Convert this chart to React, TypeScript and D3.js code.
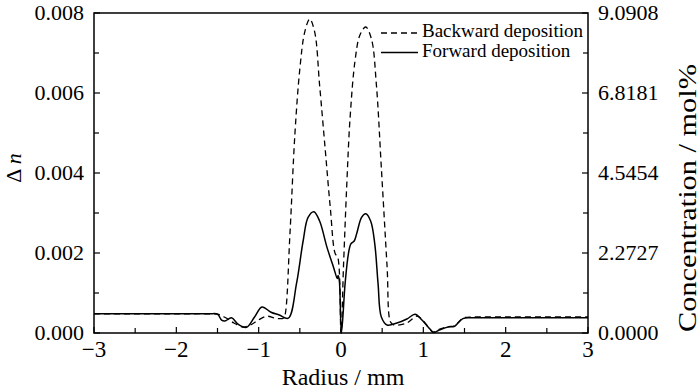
import React, { useEffect, useRef } from 'react';
import * as d3 from 'd3';

// radius (mm) / delta n
const backwardR = [-3, -2.5, -2, -1.6, -1.5, -1.4, -1.3, -1.19, -1.1, -1.0, -0.9, -0.8, -0.7, -0.68, -0.62, -0.56, -0.5, -0.44, -0.38, -0.32, -0.26, -0.19, -0.13, -0.07, -0.04, 0, 0.03, 0.07, 0.11, 0.17, 0.23, 0.3, 0.37, 0.43, 0.49, 0.56, 0.6, 0.64, 0.8, 0.92, 0.98, 1.08, 1.12, 1.2, 1.3, 1.38, 1.48, 1.6, 2, 2.5, 3];
const backwardV = [0.00048, 0.00048, 0.00048, 0.00048, 0.00047, 0.00038, 0.00025, 0.00015, 0.0002, 0.00033, 0.00042, 0.00037, 0.00037, 0.00045, 0.00248, 0.00497, 0.0066, 0.00753, 0.00785, 0.00753, 0.0062, 0.00455, 0.00313, 0.00198, 0.0019, 0, 0.00165, 0.0037, 0.00537, 0.0068, 0.00745, 0.00765, 0.00735, 0.0062, 0.00413, 0.00165, 0.00028, 0.0002, 0.00025, 0.00042, 0.00035, 0.0001, 0.00003, 0.0001, 0.00016, 0.00018, 0.00037, 0.0004, 0.0004, 0.0004, 0.0004];

const forwardR = [-3, -2.5, -2, -1.6, -1.5, -1.45, -1.41, -1.33, -1.25, -1.15, -1.05, -0.96, -0.85, -0.75, -0.64, -0.54, -0.46, -0.4, -0.33, -0.26, -0.17, -0.09, -0.045, -0.035, -0.02, 0.005, 0.05, 0.09, 0.12, 0.16, 0.19, 0.25, 0.3, 0.36, 0.41, 0.45, 0.49, 0.56, 0.68, 0.8, 0.9, 0.98, 1.08, 1.12, 1.2, 1.3, 1.38, 1.48, 1.6, 2, 2.5, 3];
const forwardV = [0.00048, 0.00048, 0.00048, 0.00048, 0.00047, 0.00032, 0.0003, 0.00038, 0.00022, 0.00014, 0.0004, 0.00065, 0.00052, 0.00045, 0.00037, 0.00124, 0.0023, 0.00289, 0.00303, 0.0028, 0.00214, 0.00164, 0.00136, 0.00144, 0.0013, 0, 0.00124, 0.00198, 0.00223, 0.0023, 0.00248, 0.00289, 0.00298, 0.0028, 0.00223, 0.00124, 0.0004, 0.0002, 0.00025, 0.00035, 0.00047, 0.00033, 0.0001, 0.00001, 0.00008, 0.00015, 0.00017, 0.00036, 0.00038, 0.00038, 0.00038, 0.00038];

const xTicks = [-3, -2, -1, 0, 1, 2, 3];
const yTicks = [0, 0.002, 0.004, 0.006, 0.008];
const rightTicks = [0, 2.2727, 4.5454, 6.8181, 9.0908];

const W = 700;
const H = 391;
const FONT = '"Liberation Serif", "Times New Roman", serif';

export default function App() {
  const svgRef = useRef<SVGSVGElement>(null);

  useEffect(() => {
    if (!svgRef.current) return;
    const root = d3.select(svgRef.current);
    root.selectAll('*').remove();

    const margin = { top: 13, right: 112, bottom: 58, left: 94 };
    const width = W - margin.left - margin.right;
    const height = H - margin.top - margin.bottom;

    const svg = root.append('g').attr('transform', `translate(${margin.left},${margin.top})`);

    const x = d3.scaleLinear().domain([-3, 3]).range([0, width]);
    const y = d3.scaleLinear().domain([0, 0.008]).range([height, 0]);
    const y2 = d3.scaleLinear().domain([0, 9.0908]).range([height, 0]);

    const tickLen = 6;
    const minorLen = 5;

    // bottom axis: labels outside, ticks inward
    const bottom = svg.append('g').attr('transform', `translate(0,${height})`);
    bottom.selectAll('.minor')
      .data(d3.range(-3, 3.01, 0.5))
      .enter().append('line')
      .attr('x1', d => x(d)).attr('x2', d => x(d))
      .attr('y1', 0).attr('y2', d => (Number.isInteger(d) ? -tickLen : -minorLen))
      .attr('stroke', '#000').attr('stroke-width', 1.2);
    bottom.selectAll('.lab')
      .data(xTicks)
      .enter().append('text')
      .attr('x', d => x(d)).attr('y', 24)
      .attr('text-anchor', 'middle')
      .attr('font-family', FONT).attr('font-size', 23)
      .text(d => d3.format('d')(d));

    // left axis
    const left = svg.append('g');
    left.selectAll('.minor')
      .data(d3.range(0, 0.00801, 0.001))
      .enter().append('line')
      .attr('x1', 0).attr('x2', (d, i) => (i % 2 === 0 ? tickLen : minorLen))
      .attr('y1', d => y(d)).attr('y2', d => y(d))
      .attr('stroke', '#000').attr('stroke-width', 1.2);
    left.selectAll('.lab')
      .data(yTicks)
      .enter().append('text')
      .attr('x', -10).attr('y', d => y(d)).attr('dy', '0.33em')
      .attr('text-anchor', 'end')
      .attr('font-family', FONT).attr('font-size', 22)
      .text(d => d3.format('.3f')(d));

    // right axis
    const right = svg.append('g').attr('transform', `translate(${width},0)`);
    right.selectAll('.minor')
      .data(d3.range(0, 9.0909, 9.0908 / 8))
      .enter().append('line')
      .attr('x1', 0).attr('x2', (d, i) => (i % 2 === 0 ? -tickLen : -minorLen))
      .attr('y1', d => y2(d)).attr('y2', d => y2(d))
      .attr('stroke', '#000').attr('stroke-width', 1.2);
    right.selectAll('.lab')
      .data(rightTicks)
      .enter().append('text')
      .attr('x', 10).attr('y', d => y2(d)).attr('dy', '0.33em')
      .attr('text-anchor', 'start')
      .attr('font-family', FONT).attr('font-size', 22)
      .text(d => d3.format('.4f')(d));

    // frame
    svg.append('rect')
      .attr('x', 0).attr('y', 0).attr('width', width).attr('height', height)
      .attr('fill', 'none').attr('stroke', '#000').attr('stroke-width', 1.5);

    const line = d3.line<[number, number]>()
      .x(d => x(d[0]))
      .y(d => y(d[1]))
      .curve(d3.curveCatmullRom.alpha(0.5));

    svg.append('path')
      .datum(backwardR.map((r, i) => [r, backwardV[i]] as [number, number]))
      .attr('fill', 'none').attr('stroke', '#000').attr('stroke-width', 1.3)
      .attr('stroke-dasharray', '6,4')
      .attr('d', line);

    svg.append('path')
      .datum(forwardR.map((r, i) => [r, forwardV[i]] as [number, number]))
      .attr('fill', 'none').attr('stroke', '#000').attr('stroke-width', 1.5)
      .attr('d', line);

    // legend
    const legend = root.append('g').attr('transform', 'translate(381,33)');
    const items = [
      { label: 'Backward deposition', dash: '6,4' },
      { label: 'Forward deposition', dash: null },
    ];
    items.forEach((it, i) => {
      const g = legend.append('g').attr('transform', `translate(0,${i * 19.5})`);
      g.append('line')
        .attr('x1', 0).attr('x2', 37).attr('y1', 0).attr('y2', 0)
        .attr('stroke', '#000').attr('stroke-width', 1.4)
        .attr('stroke-dasharray', it.dash);
      g.append('text')
        .attr('x', 41).attr('y', 4)
        .attr('font-family', FONT).attr('font-size', 19)
        .text(it.label);
    });

    // axis titles
    root.append('text')
      .attr('x', 343).attr('y', 385)
      .attr('text-anchor', 'middle')
      .attr('font-family', FONT).attr('font-size', 24)
      .text('Radius / mm');

    const yl = root.append('text')
      .attr('transform', 'translate(21,168) rotate(-90)')
      .attr('text-anchor', 'middle')
      .attr('font-family', FONT).attr('font-size', 22);
    yl.append('tspan').text('Δ ');
    yl.append('tspan').attr('font-style', 'italic').text('n');

    root.append('text')
      .attr('transform', 'translate(696,198) rotate(-90)')
      .attr('text-anchor', 'middle')
      .attr('font-family', FONT).attr('font-size', 25)
      .attr('textLength', 268).attr('lengthAdjust', 'spacingAndGlyphs')
      .text('Concentration / mol%');
  }, []);

  return <svg ref={svgRef} width={W} height={H} style={{ position: 'absolute', left: 0, top: 0 }} />;
}
